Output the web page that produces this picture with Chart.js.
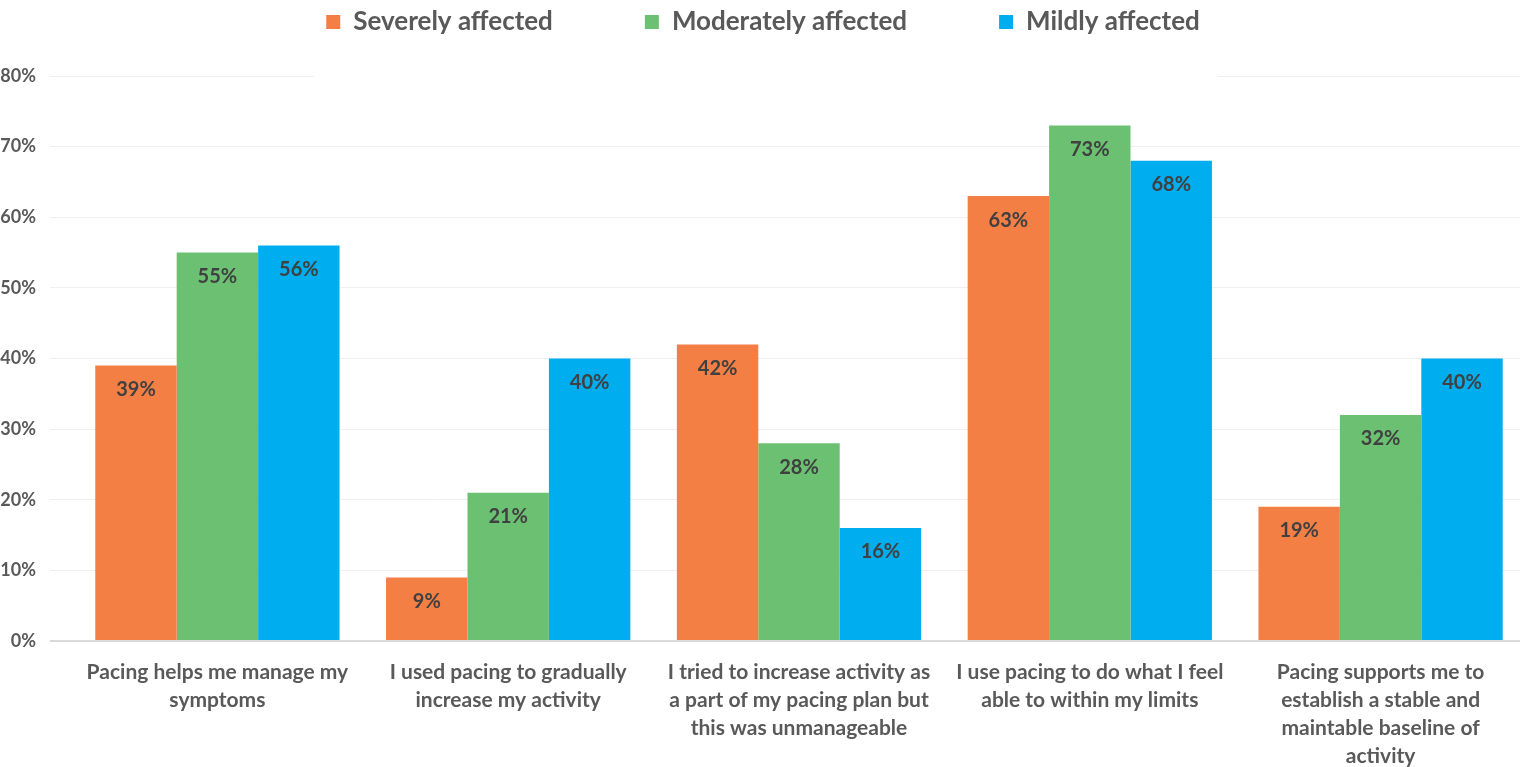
<!DOCTYPE html>
<html>
<head>
<meta charset="utf-8">
<title>Pacing</title>
<script src="https://cdn.jsdelivr.net/npm/chart.js@4.4.1/dist/chart.umd.min.js"></script>
<style>
  html, body { margin: 0; padding: 0; background: #fff; overflow: hidden; }
  #wrap { width: 1526px; height: 767px; }
</style>
</head>
<body>
<div id="wrap"><canvas id="myChart"></canvas></div>
<script>
// categories (already split into the lines shown under each group)
const categories = [
  ["Pacing helps me manage my", "symptoms"],
  ["I used pacing to gradually", "increase my activity"],
  ["I tried to increase activity as", "a part of my pacing plan but", "this was unmanageable"],
  ["I use pacing to do what I feel", "able to within my limits"],
  ["Pacing supports me to", "establish a stable and", "maintable baseline of", "activity"],
];
const seriesNames = ["Severely affected", "Moderately affected", "Mildly affected"];
const severely = [39, 9, 42, 63, 19];
const moderately = [55, 21, 28, 73, 32];
const mildly = [56, 40, 16, 68, 40];
const yTicks = [0, 10, 20, 30, 40, 50, 60, 70, 80];

const colors = ["#F47F45", "#6CC072", "#00ADEE"];
const textGray = "#595959";
const font = "Lato";

// legend spacing: add room between legend and plot
const legendSpacer = {
  id: "legendSpacer",
  beforeInit(chart) {
    const fit = chart.legend.fit;
    chart.legend.fit = function () {
      fit.call(this);
      this.height += 31;
    };
  },
};

// the top gridline is hidden behind the legend box in the original
const legendGap = {
  id: "legendGap",
  beforeDatasetsDraw(chart) {
    const boxes = chart.legend.legendHitBoxes;
    if (!boxes || !boxes.length) return;
    const last = boxes[boxes.length - 1];
    const y = chart.scales.y.getPixelForValue(yTicks[yTicks.length - 1]);
    const ctx = chart.ctx;
    ctx.save();
    ctx.fillStyle = "#fff";
    ctx.fillRect(boxes[0].left - 12, y - 2, last.left + last.width + 30 - boxes[0].left, 4);
    ctx.restore();
  },
};

// value labels inside the top of each bar
const barLabels = {
  id: "barLabels",
  afterDatasetsDraw(chart) {
    const ctx = chart.ctx;
    ctx.save();
    ctx.font = "bold 20px " + font;
    ctx.fillStyle = "#404040";
    ctx.textAlign = "center";
    ctx.textBaseline = "middle";
    chart.data.datasets.forEach((ds, i) => {
      chart.getDatasetMeta(i).data.forEach((bar, j) => {
        ctx.fillText(ds.data[j] + "%", bar.x, bar.y + 24);
      });
    });
    ctx.restore();
  },
};

const ctx = document.getElementById("myChart").getContext("2d");
new Chart(ctx, {
  type: "bar",
  data: {
    labels: categories,
    datasets: [
      { label: seriesNames[0], data: severely, backgroundColor: colors[0] },
      { label: seriesNames[1], data: moderately, backgroundColor: colors[1] },
      { label: seriesNames[2], data: mildly, backgroundColor: colors[2] },
    ],
  },
  options: {
    responsive: true,
    maintainAspectRatio: false,
    animation: false,
    layout: { padding: { top: -83, left: 0, right: 0, bottom: 0 } },
    datasets: {
      bar: { categoryPercentage: 0.84, barPercentage: 1.0, borderWidth: 0 },
    },
    plugins: {
      tooltip: { enabled: false },
      legend: {
        position: "top",
        labels: {
          boxWidth: 14,
          boxHeight: 14,
          padding: 92,
          color: textGray,
          font: { family: font, size: 26, weight: "bold" },
        },
      },
    },
    scales: {
      x: {
        afterFit: (scale) => { scale.height = 126; },
        grid: { display: false, drawTicks: false },
        border: { display: false },
        ticks: {
          autoSkip: false,
          maxRotation: 0,
          minRotation: 0,
          padding: 17,
          color: textGray,
          font: { family: font, size: 21, weight: "bold", lineHeight: 1.3334 },
        },
      },
      y: {
        min: 0,
        max: 80,
        afterFit: (scale) => { scale.width = 72; },
        afterBuildTicks: (scale) => { scale.ticks = yTicks.map((v) => ({ value: v })); },
        border: { display: false },
        grid: {
          color: (c) => (c.tick && c.tick.value === 0 ? "#D9D9D9" : "#EFEFEF"),
          tickColor: (c) => (c.tick && c.tick.value === 0 ? "#D9D9D9" : "#EFEFEF"),
          lineWidth: (c) => (c.tick && c.tick.value === 0 ? 2 : 1),
          tickLength: 22,
        },
        ticks: {
          padding: 14,
          color: textGray,
          font: { family: font, size: 18, weight: "bold" },
          callback: (v) => v + "%",
        },
      },
    },
  },
  plugins: [legendSpacer, legendGap, barLabels],
});
</script>
</body>
</html>
